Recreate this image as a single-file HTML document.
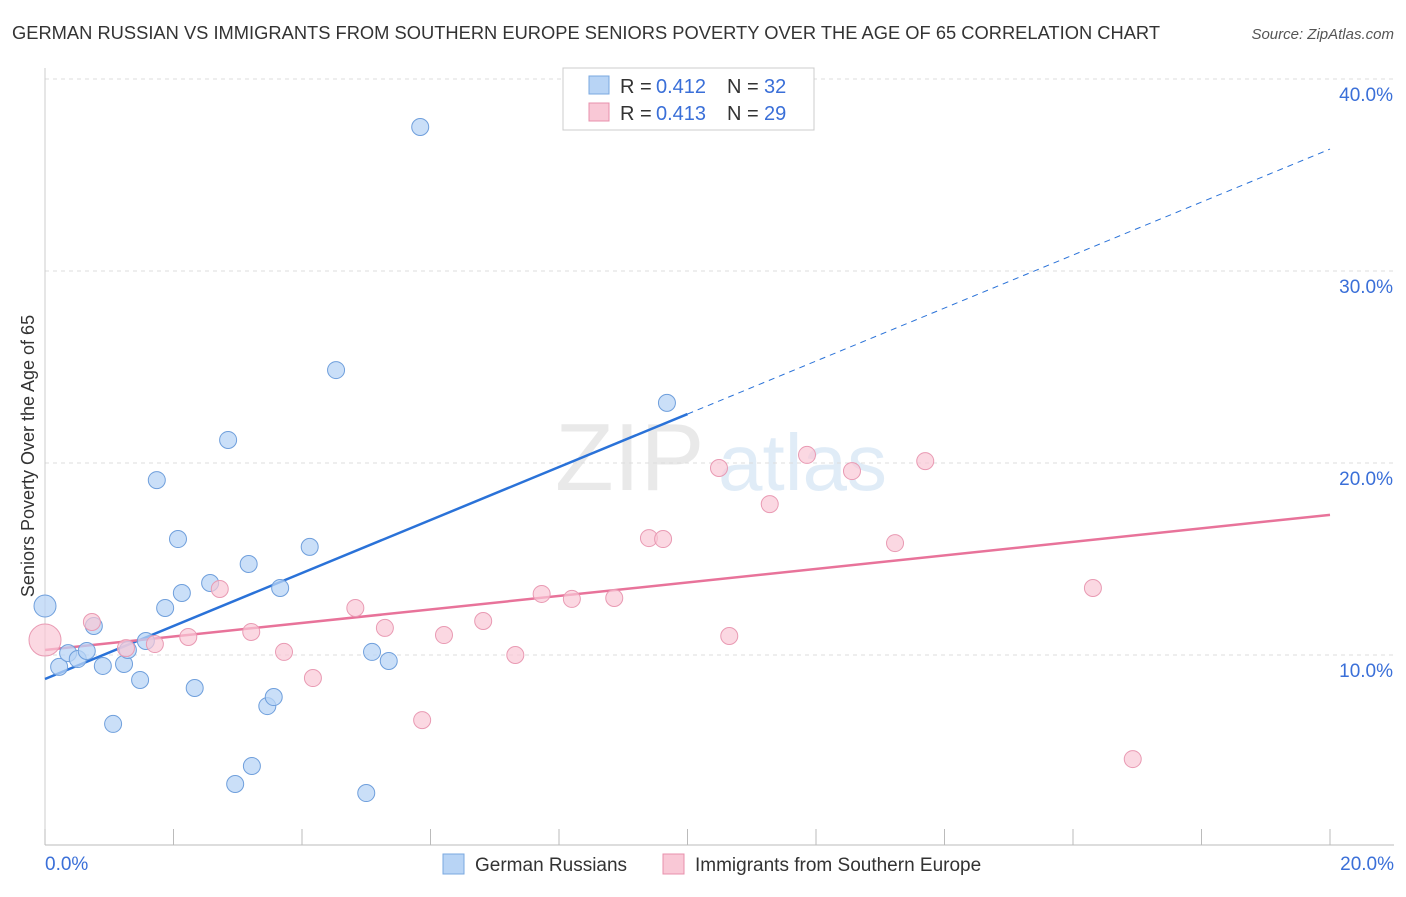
<!DOCTYPE html>
<html><head><meta charset="utf-8">
<style>
body{margin:0;background:#fff;font-family:"Liberation Sans",sans-serif;}
svg text{font-family:"Liberation Sans",sans-serif;}
</style></head>
<body>
<svg id="chart" width="1406" height="892" xmlns="http://www.w3.org/2000/svg">
<text x="12" y="39" font-size="18" fill="#333" textLength="1148" lengthAdjust="spacingAndGlyphs">GERMAN RUSSIAN VS IMMIGRANTS FROM SOUTHERN EUROPE SENIORS POVERTY OVER THE AGE OF 65 CORRELATION CHART</text>
<text x="1394" y="39" font-size="15" fill="#555" text-anchor="end" font-style="italic">Source: ZipAtlas.com</text>
<text transform="translate(34,456) rotate(-90)" font-size="18" fill="#333" text-anchor="middle">Seniors Poverty Over the Age of 65</text>
<g id="watermark" opacity="0.18">
<text x="555" y="490" font-size="96" font-family="Liberation Serif" fill="#888">ZIP</text>
<text x="718" y="490" font-size="80" fill="#5b9bd5">atlas</text>
</g>
<g id="grid"></g>
<g id="axes"></g>
<g id="lines"></g>
<g id="points"></g>
<g>
<rect x="563" y="68" width="251" height="62" fill="#fff" stroke="#ccc"/>
<rect x="589" y="76" width="20" height="18" fill="#b8d4f5" stroke="#7aa8e0"/>
<text x="620" y="93" font-size="20" fill="#333">R = </text>
<text x="656" y="93" font-size="20" fill="#3a6fd8">0.412</text>
<text x="727" y="93" font-size="20" fill="#333">N = </text>
<text x="764" y="93" font-size="20" fill="#3a6fd8">32</text>
<rect x="589" y="103" width="20" height="18" fill="#f9c8d6" stroke="#e890ac"/>
<text x="620" y="120" font-size="20" fill="#333">R = </text>
<text x="656" y="120" font-size="20" fill="#3a6fd8">0.413</text>
<text x="727" y="120" font-size="20" fill="#333">N = </text>
<text x="764" y="120" font-size="20" fill="#3a6fd8">29</text>
</g>
<g>
<rect x="443" y="854" width="21" height="20" fill="#b8d4f5" stroke="#7aa8e0"/>
<text x="475" y="871" font-size="19" fill="#333">German Russians</text>
<rect x="663" y="854" width="21" height="20" fill="#f9c8d6" stroke="#e890ac"/>
<text x="695" y="871" font-size="19" fill="#333">Immigrants from Southern Europe</text>
</g>
</svg>
<script>
const blueX=[0,0.22,0.36,0.51,0.65,0.76,0.90,1.06,1.23,1.29,1.48,1.57,1.74,1.87,2.07,2.13,2.33,2.57,2.85,2.96,3.17,3.22,3.46,3.56,3.66,4.12,4.53,5.00,5.09,5.35,5.84,9.68];
const blueY=[12.55,9.38,10.10,9.79,10.21,11.51,9.43,6.41,9.53,10.26,8.70,10.73,19.11,12.45,16.04,13.23,8.28,13.75,21.20,3.28,14.74,4.22,7.34,7.81,13.49,15.63,24.84,2.81,10.16,9.69,37.50,23.13];
const pinkX=[0,0.73,1.26,1.71,2.23,2.72,3.21,3.72,4.17,4.83,5.29,5.87,6.21,6.82,7.32,7.73,8.20,8.86,9.40,9.62,10.49,10.65,11.28,11.86,12.56,13.23,13.70,16.31,16.93];
const pinkY=[10.78,11.72,10.36,10.57,10.94,13.44,11.20,10.16,8.80,12.45,11.41,6.61,11.04,11.77,10.00,13.18,12.92,12.97,16.09,16.04,19.74,10.99,17.86,20.42,19.58,15.83,20.10,13.49,4.58];
const yTicks=[10,20,30,40];
const yTickLabels=["10.0%","20.0%","30.0%","40.0%"];
const xTickLabels=["0.0%","20.0%"];
const blueFit=[8.75,1.38];
const pinkFit=[10.26,0.352];
const NS="http://www.w3.org/2000/svg";
const xs=v=>45+v/20*1285;
const ys=v=>847-v*19.2;
function mk(tag,attrs,parent){const e=document.createElementNS(NS,tag);for(const k in attrs)e.setAttribute(k,attrs[k]);document.getElementById(parent).appendChild(e);return e;}
yTicks.forEach((t,i)=>{
 const g=mk('line',{x1:45,x2:1394,y1:ys(t),y2:ys(t),stroke:'#ddd','stroke-dasharray':'4,4'},'grid');
 
 
 const l=mk('text',{x:1393,y:ys(t)+22,'font-size':19,fill:'#3a6fd8','text-anchor':'end'},'grid');
 l.textContent=yTickLabels[i];
 
 
});
const ax=mk('line',{x1:45,x2:1394,y1:845,y2:845,stroke:'#bbb'},'axes');


const ay=mk('line',{x1:45,x2:45,y1:68,y2:845,stroke:'#ccc'},'axes');


for(let i=0;i<=10;i++){
 const t=mk('line',{x1:xs(i*2),x2:xs(i*2),y1:829,y2:845,stroke:'#bbb'},'axes');
 
 
}
[[0,'start',45],[20,'end',1394]].forEach((d,i)=>{
 const t=mk('text',{x:d[2],y:870,'font-size':19,fill:'#3a6fd8','text-anchor':d[1]},'axes');
 t.textContent=xTickLabels[i];
 
 
});
const bl=mk('line',{x1:xs(0),y1:ys(blueFit[0]),x2:xs(10),y2:ys(blueFit[0]+blueFit[1]*10),stroke:'#2a72d8','stroke-width':2.5},'lines');


const bd=mk('line',{x1:xs(10),y1:ys(blueFit[0]+blueFit[1]*10),x2:xs(20),y2:ys(blueFit[0]+blueFit[1]*20),stroke:'#2a72d8','stroke-width':1,'stroke-dasharray':'6,5'},'lines');


const pl=mk('line',{x1:xs(0),y1:ys(pinkFit[0]),x2:xs(20),y2:ys(pinkFit[0]+pinkFit[1]*20),stroke:'#e8739a','stroke-width':2.5},'lines');


blueX.forEach((x,i)=>{
 const c=mk('circle',{cx:xs(x),cy:ys(blueY[i]),r:i===0?11:8.5,fill:'#b8d4f5','fill-opacity':0.75,stroke:'#6f9fdc','stroke-width':1},'points');
 
 
});
pinkX.forEach((x,i)=>{
 const c=mk('circle',{cx:xs(x),cy:ys(pinkY[i]),r:i===0?16:8.5,fill:'#f9c8d6','fill-opacity':0.7,stroke:'#e99ab3','stroke-width':1},'points');
 
 
});
</script>
</body></html>
